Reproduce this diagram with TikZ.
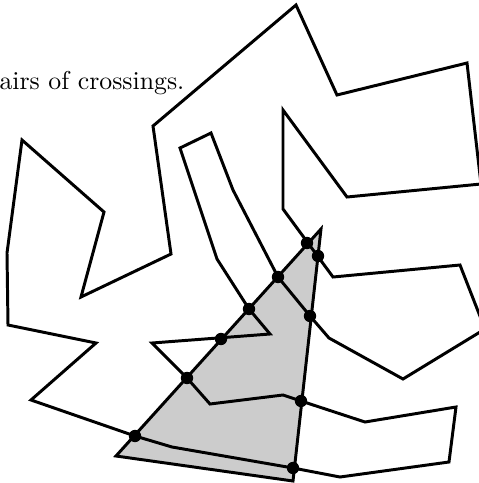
\documentclass[tikz,border=0pt]{standalone}
\begin{document}
\begin{tikzpicture}[x=0.01362cm,y=-0.01362cm,
  edge/.style={line width=1.15pt,line join=miter},
  crossdot/.style={fill=black,draw=none}]
\useasboundingbox (0,0) rectangle (479,483);
\clip (0,0) rectangle (479,483);
% label
\node[anchor=base west,inner sep=0pt] (lbl) at (-1,89) {airs of crossings.};
% triangle fill
\fill[black!20] (116,456) -- (321,229) -- (293,481) -- cycle;
% polygon
\draw[edge] (296,5) -- (337,95) -- (467,63) -- (481,184) -- (347,197) -- (283,110)
  -- (283,209) -- (333,277) -- (460,265) -- (485,329) -- (403,379) -- (329,338)
  -- (310,316) -- (278,277) -- (233,190) -- (211,133) -- (180,148) -- (217,259)
  -- (249,309) -- (270,334) -- (152,343) -- (187,378) -- (210,404) -- (283,395)
  -- (301,401) -- (365,422) -- (456,407) -- (449,462) -- (340,477) -- (293,468)
  -- (172,447) -- (135,436) -- (31,400) -- (96,343) -- (8,325) -- (7,253)
  -- (22,140) -- (104,212) -- (81,297) -- (171,254) -- (153,126) -- cycle;
% triangle outline
\draw[edge] (116,456) -- (321,229) -- (293,481) -- cycle;
% crossing dots
\foreach \p in {(307,243),(318,256),(278,277),(310,316),(249,309),(221,339),(187,378),(301,401),(293,468),(135,436)}
  \fill[crossdot] \p circle[radius=2.4pt];
\end{tikzpicture}
\end{document}
